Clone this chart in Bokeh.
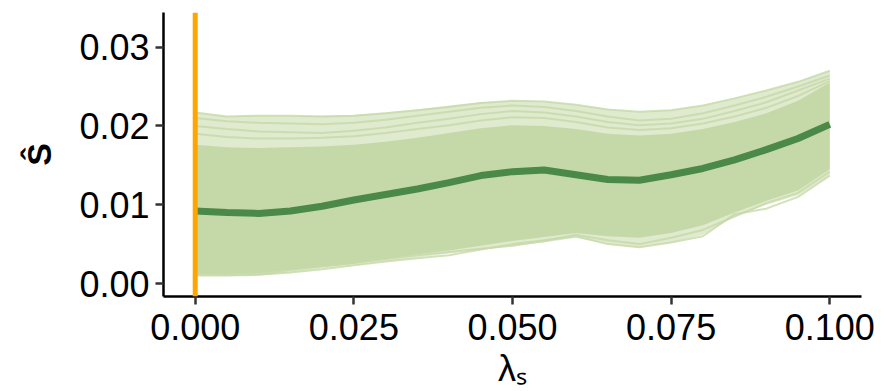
from bokeh.plotting import figure
from bokeh.models import Range1d, FixedTicker, NumeralTickFormatter, Span
from bokeh.embed import file_html
from bokeh.resources import INLINE

# ---- data ----
lam = [0.0, 0.005, 0.01, 0.015, 0.02, 0.025, 0.03, 0.035, 0.04, 0.045, 0.05,
       0.055, 0.06, 0.065, 0.07, 0.075, 0.08, 0.085, 0.09, 0.095, 0.1]
mean_s = [0.0092, 0.0090, 0.0089, 0.0092, 0.0098, 0.0106, 0.0113, 0.0120, 0.0128, 0.0137, 0.0142,
          0.0144, 0.0138, 0.0132, 0.0131, 0.0138, 0.0146, 0.0157, 0.0170, 0.0184, 0.0202]
outer_hi = [0.0217, 0.0212, 0.0213, 0.0213, 0.0213, 0.0214, 0.0217, 0.0221, 0.0226, 0.0230, 0.0232,
            0.0231, 0.0227, 0.0221, 0.0218, 0.0220, 0.0226, 0.0235, 0.0245, 0.0256, 0.0270]
outer_lo = [0.0010, 0.0010, 0.0010, 0.0014, 0.0019, 0.0023, 0.0028, 0.0033, 0.0038, 0.0043, 0.0048,
            0.0052, 0.0058, 0.0050, 0.0046, 0.0052, 0.0062, 0.0085, 0.0100, 0.0112, 0.0137]
core_hi = [0.0176, 0.0173, 0.0172, 0.0173, 0.0174, 0.0176, 0.0180, 0.0185, 0.0191, 0.0197, 0.0201,
           0.0200, 0.0196, 0.0190, 0.0188, 0.0190, 0.0196, 0.0205, 0.0216, 0.0232, 0.0255]
core_lo = [0.0012, 0.0012, 0.0013, 0.0017, 0.0021, 0.0025, 0.0031, 0.0037, 0.0042, 0.0048, 0.0054,
           0.0059, 0.0064, 0.0060, 0.0058, 0.0064, 0.0074, 0.0090, 0.0105, 0.0118, 0.0145]
edge_lines = [
    [0.0217, 0.0212, 0.0213, 0.0213, 0.0212, 0.0213, 0.0216, 0.0220, 0.0224, 0.0229, 0.0232,
     0.0231, 0.0227, 0.0221, 0.0218, 0.0220, 0.0226, 0.0235, 0.0245, 0.0256, 0.0270],
    [0.0210, 0.0206, 0.0204, 0.0203, 0.0202, 0.0204, 0.0208, 0.0213, 0.0218, 0.0223, 0.0226,
     0.0224, 0.0219, 0.0212, 0.0207, 0.0209, 0.0216, 0.0226, 0.0237, 0.0250, 0.0264],
    [0.0200, 0.0196, 0.0193, 0.0192, 0.0191, 0.0194, 0.0198, 0.0204, 0.0209, 0.0215, 0.0219,
     0.0217, 0.0212, 0.0205, 0.0201, 0.0203, 0.0209, 0.0219, 0.0230, 0.0245, 0.0260],
    [0.0190, 0.0186, 0.0184, 0.0184, 0.0185, 0.0187, 0.0191, 0.0196, 0.0201, 0.0207, 0.0211,
     0.0210, 0.0205, 0.0198, 0.0195, 0.0197, 0.0203, 0.0212, 0.0223, 0.0238, 0.0257],
    [0.0010, 0.0010, 0.0011, 0.0014, 0.0018, 0.0023, 0.0028, 0.0032, 0.0036, 0.0043, 0.0050,
     0.0055, 0.0060, 0.0050, 0.0046, 0.0052, 0.0060, 0.0088, 0.0095, 0.0110, 0.0137],
    [0.0012, 0.0011, 0.0012, 0.0017, 0.0022, 0.0026, 0.0031, 0.0036, 0.0040, 0.0044, 0.0048,
     0.0054, 0.0062, 0.0055, 0.0050, 0.0058, 0.0068, 0.0085, 0.0102, 0.0115, 0.0142],
]
x_ticks = [0.0, 0.025, 0.05, 0.075, 0.1]
y_ticks = [0.0, 0.01, 0.02, 0.03]
x_label = "λₛ"
y_label = "Ŝ"

FONT = "Liberation Sans"
BAND = "#c5d9a8"

p = figure(output_backend="svg", toolbar_location=None, title=None,
           frame_width=698, frame_height=284,
           min_border_left=163, min_border_right=19, min_border_top=12, min_border_bottom=0,
           x_range=Range1d(-0.005, 0.105), y_range=Range1d(-0.00165, 0.0344))
p.outline_line_color = None
p.xgrid.visible = False
p.ygrid.visible = False

p.varea(x=lam, y1=outer_lo, y2=outer_hi, fill_color=BAND, fill_alpha=0.55)
p.varea(x=lam, y1=core_lo, y2=core_hi, fill_color=BAND, fill_alpha=1.0)
for ys in edge_lines:
    p.line(lam, ys, line_color=BAND, line_width=2, line_alpha=0.8)
p.line(lam, mean_s, line_color="#4b8948", line_width=7)

p.add_layout(Span(location=0.0, dimension="height", line_color="#ffa500", line_width=5))

for ax in (p.xaxis[0], p.yaxis[0]):
    ax.axis_line_color = "black"
    ax.axis_line_width = 2.5
    ax.major_tick_line_color = "#333333"
    ax.major_tick_line_width = 2.5
    ax.major_tick_out = 8
    ax.major_tick_in = 0
    ax.minor_tick_line_color = None
    ax.major_label_text_font = FONT
    ax.major_label_text_font_size = "36px"
    ax.major_label_text_color = "black"

p.xaxis.ticker = FixedTicker(ticks=x_ticks)
p.xaxis.formatter = NumeralTickFormatter(format="0.000")
p.xaxis.major_label_standoff = 9
p.xaxis.axis_label = x_label
p.xaxis.axis_label_text_font = FONT
p.xaxis.axis_label_text_font_size = "36px"
p.xaxis.axis_label_text_font_style = "normal"
p.xaxis.axis_label_text_color = "black"
p.xaxis.axis_label_standoff = 5

p.yaxis.ticker = FixedTicker(ticks=y_ticks)
p.yaxis.formatter = NumeralTickFormatter(format="0.00")
p.yaxis.major_label_standoff = 6
p.yaxis.axis_label = y_label
p.yaxis.axis_label_text_font = FONT
p.yaxis.axis_label_text_font_size = "34px"
p.yaxis.axis_label_text_font_style = "bold"
p.yaxis.axis_label_text_color = "black"
p.yaxis.axis_label_standoff = 18

open("out.html", "w").write(file_html(p, INLINE))
